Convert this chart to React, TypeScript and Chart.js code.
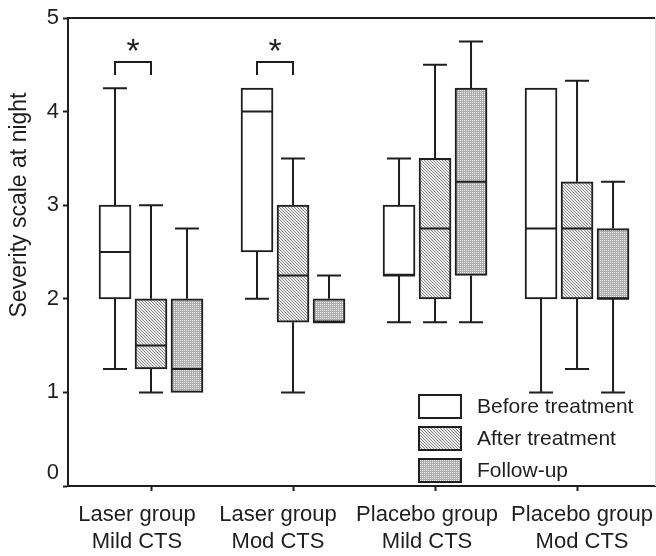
import { useEffect, useRef } from "react";
import { Chart, registerables } from "chart.js";

Chart.register(...registerables);

// ---------- data ----------
const CATEGORIES: string[][] = [
  ["Laser group", "Mild CTS"],
  ["Laser group", "Mod CTS"],
  ["Placebo group", "Mild CTS"],
  ["Placebo group", "Mod CTS"],
];
const SERIES = ["Before treatment", "After treatment", "Follow-up"];

const BEFORE_MIN = [1.25, 2, 1.75, 1];
const BEFORE_Q1 = [2, 2.5, 2.25, 2];
const BEFORE_MEDIAN = [2.5, 4, 2.25, 2.75];
const BEFORE_Q3 = [3, 4.25, 3, 4.25];
const BEFORE_MAX = [4.25, 4.25, 3.5, 4.25];

const AFTER_MIN = [1, 1, 1.75, 1.25];
const AFTER_Q1 = [1.25, 1.75, 2, 2];
const AFTER_MEDIAN = [1.5, 2.25, 2.75, 2.75];
const AFTER_Q3 = [2, 3, 3.5, 3.25];
const AFTER_MAX = [3, 3.5, 4.5, 4.33];

const FOLLOW_MIN = [1, 1.75, 1.75, 1];
const FOLLOW_Q1 = [1, 1.75, 2.25, 2];
const FOLLOW_MEDIAN = [1.25, 1.75, 3.25, 2];
const FOLLOW_Q3 = [2, 2, 4.25, 2.75];
const FOLLOW_MAX = [2.75, 2.25, 4.75, 3.25];

const Y_TICKS = [0, 1, 2, 3, 4, 5];
const Y_TITLE = "Severity scale at night";

// significance brackets (Before vs After) per category
const SIG_CATEGORIES = [0, 1];
const SIG_BRACKET_Y = [4.53, 4.53];
const SIG_LEG_Y = [4.39, 4.39];
const SIG_STAR_Y = [4.71, 4.71];

const STATS = [
  { min: BEFORE_MIN, q1: BEFORE_Q1, med: BEFORE_MEDIAN, q3: BEFORE_Q3, max: BEFORE_MAX },
  { min: AFTER_MIN, q1: AFTER_Q1, med: AFTER_MEDIAN, q3: AFTER_Q3, max: AFTER_MAX },
  { min: FOLLOW_MIN, q1: FOLLOW_Q1, med: FOLLOW_MEDIAN, q3: FOLLOW_Q3, max: FOLLOW_MAX },
];

// ---------- styles ----------
const INK = "#1e1e1e";
const FONT = "'Liberation Sans', Arial, Helvetica, sans-serif";
// horizontal nudge of each category label relative to its tick (layout only)
const LABEL_NUDGE = [-14, -15, -8, 5];

function makePattern(kind: string): CanvasPattern | string {
  const c = document.createElement("canvas");
  const g = c.getContext("2d");
  if (!g) return "#ccc";
  if (kind === "white") return "#ffffff";
  if (kind === "hatch") {
    c.width = 3;
    c.height = 3;
    g.fillStyle = "#ececec";
    g.fillRect(0, 0, 3, 3);
    g.fillStyle = "#8a8a8a";
    for (let i = 0; i < 3; i++) g.fillRect(i, i, 1, 1);
  } else {
    c.width = 2;
    c.height = 2;
    g.fillStyle = "#adadad";
    g.fillRect(0, 0, 2, 2);
    g.fillStyle = "#eeeeee";
    g.fillRect(0, 0, 1, 1);
  }
  return g.createPattern(c, "repeat") || "#ccc";
}

const decorPlugin = {
  id: "boxDecor",
  afterDatasetsDraw(chart: any) {
    const ctx: CanvasRenderingContext2D = chart.ctx;
    const ys = chart.scales.y;
    const xs = chart.scales.x;
    const area = chart.chartArea;
    ctx.save();
    ctx.strokeStyle = INK;
    ctx.lineWidth = 2;
    ctx.lineCap = "butt";
    const cap = 24;
    STATS.forEach((s, d) => {
      const meta = chart.getDatasetMeta(d);
      meta.data.forEach((bar: any, i: number) => {
        const { x, width } = bar.getProps(["x", "width"], true);
        const pQ1 = ys.getPixelForValue(s.q1[i]);
        const pQ3 = ys.getPixelForValue(s.q3[i]);
        const pMin = ys.getPixelForValue(s.min[i]);
        const pMax = ys.getPixelForValue(s.max[i]);
        const pMed = ys.getPixelForValue(s.med[i]);
        ctx.beginPath();
        if (s.max[i] > s.q3[i]) {
          ctx.moveTo(x, pQ3);
          ctx.lineTo(x, pMax);
          ctx.moveTo(x - cap / 2, pMax);
          ctx.lineTo(x + cap / 2, pMax);
        }
        if (s.min[i] < s.q1[i]) {
          ctx.moveTo(x, pQ1);
          ctx.lineTo(x, pMin);
          ctx.moveTo(x - cap / 2, pMin);
          ctx.lineTo(x + cap / 2, pMin);
        }
        ctx.moveTo(x - width / 2, pMed);
        ctx.lineTo(x + width / 2, pMed);
        ctx.stroke();
      });
    });

    // significance brackets
    const m0 = chart.getDatasetMeta(0);
    const m1 = chart.getDatasetMeta(1);
    ctx.font = `34px ${FONT}`;
    ctx.fillStyle = INK;
    ctx.textAlign = "center";
    ctx.textBaseline = "alphabetic";
    SIG_CATEGORIES.forEach((ci, k) => {
      const x0 = m0.data[ci].x;
      const x1 = m1.data[ci].x;
      const pTop = ys.getPixelForValue(SIG_BRACKET_Y[k]);
      const pLeg = ys.getPixelForValue(SIG_LEG_Y[k]);
      ctx.beginPath();
      ctx.moveTo(x0, pLeg);
      ctx.lineTo(x0, pTop);
      ctx.lineTo(x1, pTop);
      ctx.lineTo(x1, pLeg);
      ctx.stroke();
      const cy = ys.getPixelForValue(SIG_STAR_Y[k]);
      const mt = ctx.measureText("*");
      const off = (mt.actualBoundingBoxAscent - mt.actualBoundingBoxDescent) / 2;
      ctx.fillText("*", (x0 + x1) / 2, cy + off);
    });

    // category labels (two lines each), placed from the x scale
    ctx.font = `22px ${FONT}`;
    ctx.textAlign = "center";
    ctx.textBaseline = "alphabetic";
    ctx.fillStyle = INK;
    CATEGORIES.forEach((lines, i) => {
      const cx = xs.getPixelForValue(i + 1) + LABEL_NUDGE[i];
      lines.forEach((ln, j) => {
        ctx.fillText(ln, cx, area.bottom + 35 + j * 26.5);
      });
    });

    // frame: top line and faint right edge
    ctx.beginPath();
    ctx.moveTo(area.left, area.top);
    ctx.lineTo(area.right, area.top);
    ctx.stroke();
    ctx.strokeStyle = "#d8d8d8";
    ctx.lineWidth = 1;
    ctx.beginPath();
    ctx.moveTo(area.right + 0.5, area.top);
    ctx.lineTo(area.right + 0.5, area.bottom);
    ctx.stroke();

    // legend
    const fills = chart.data.datasets.map((ds: any) => ds.backgroundColor);
    const bx = area.right - 236;
    const bw = 42;
    const bh = 23;
    ctx.font = `21px ${FONT}`;
    ctx.textAlign = "left";
    ctx.textBaseline = "middle";
    SERIES.forEach((name, i) => {
      const cy = area.bottom - 79.5 + i * 32;
      ctx.fillStyle = fills[i];
      ctx.fillRect(bx, cy - bh / 2, bw, bh);
      ctx.strokeStyle = INK;
      ctx.lineWidth = 2;
      ctx.strokeRect(bx, cy - bh / 2, bw, bh);
      ctx.fillStyle = INK;
      ctx.fillText(name, bx + 58, cy + 1);
    });

    // y-axis title
    ctx.save();
    ctx.translate(20, (area.top + area.bottom) / 2 - 47);
    ctx.rotate(-Math.PI / 2);
    ctx.font = `23px ${FONT}`;
    ctx.textAlign = "center";
    ctx.textBaseline = "middle";
    ctx.fillStyle = INK;
    ctx.fillText(Y_TITLE, 0, 0);
    ctx.restore();

    ctx.restore();
  },
};

export default function App() {
  const ref = useRef<HTMLCanvasElement | null>(null);

  useEffect(() => {
    document.body.style.margin = "0";
    const canvas = ref.current;
    if (!canvas) return;
    const fills = [makePattern("white"), makePattern("hatch"), makePattern("dots")];
    const chart = new Chart(canvas, {
      type: "bar",
      data: {
        datasets: SERIES.map((name, d) => ({
          label: name,
          data: CATEGORIES.map((_, i) => ({ x: i + 1, y: [STATS[d].q1[i], STATS[d].q3[i]] })) as any,
          backgroundColor: fills[d] as any,
          borderColor: INK,
          borderWidth: 2,
          borderSkipped: false,
          barThickness: 36,
          maxBarThickness: 32,
        })),
      },
      options: {
        responsive: false,
        animation: false,
        layout: { padding: { top: 18, right: 1, left: 0, bottom: 0 } },
        plugins: {
          legend: { display: false },
          tooltip: { enabled: false },
        },
        scales: {
          x: {
            type: "linear",
            offset: false,
            bounds: "data",
            min: 0.4155,
            max: 4.549,
            afterBuildTicks: (s: any) => {
              s.ticks = CATEGORIES.map((_, i) => ({ value: i + 1 }));
            },
            afterFit: (s: any) => {
              s.height = 70;
            },
            grid: {
              display: true,
              offset: false,
              drawOnChartArea: false,
              drawTicks: true,
              tickLength: 5,
              tickWidth: 2,
              tickColor: INK,
            },
            border: { display: true, color: INK, width: 2 },
            ticks: {
              display: false,
              autoSkip: false,
              maxRotation: 0,
              minRotation: 0,
            },
          },
          y: {
            type: "linear",
            min: 0,
            max: 5,
            afterBuildTicks: (s: any) => {
              s.ticks = Y_TICKS.map((v) => ({ value: v }));
            },
            afterFit: (s: any) => {
              s.width = 68;
            },
            grid: {
              display: true,
              drawOnChartArea: false,
              drawTicks: true,
              tickLength: 5,
              tickWidth: 2,
              tickColor: INK,
            },
            border: { display: true, color: INK, width: 2 },
            ticks: {
              padding: 4,
              color: INK,
              font: { family: FONT, size: 22, lineHeight: 1.2 },
              callback: (v: any) => (Number(v) === 0 ? ["0", ""] : String(v)),
            },
          },
        },
      },
      plugins: [decorPlugin],
    });
    return () => chart.destroy();
  }, []);

  return (
    <div style={{ width: 656, height: 556 }}>
      <canvas ref={ref} width={656} height={556} style={{ display: "block" }} />
    </div>
  );
}
